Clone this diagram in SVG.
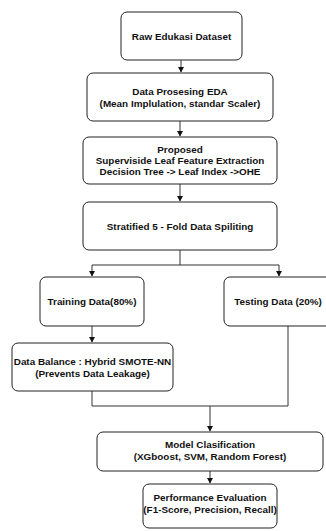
<svg xmlns="http://www.w3.org/2000/svg" width="326" height="531" viewBox="0 0 326 531">
<style>
.box{fill:#ffffff;stroke:#222222;stroke-width:1}
.t{font-family:"Liberation Sans",Arial,sans-serif;font-weight:bold;font-size:9.9px;fill:#111111;text-anchor:middle}
.c{fill:none;stroke:#333333;stroke-width:1}
</style>
<defs>
<marker id="ah" markerWidth="6" markerHeight="6" refX="5" refY="3" orient="auto" markerUnits="userSpaceOnUse">
<path d="M0,0 L5.5,3 L0,6 Z" fill="#111111"/>
</marker>
</defs>
<rect width="326" height="531" fill="#ffffff"/>
<g id="connectors">
<path class="c" d="M181,60 V72" marker-end="url(#ah)"/>
<path class="c" d="M180,121 V136" marker-end="url(#ah)"/>
<path class="c" d="M180,184 V201" marker-end="url(#ah)"/>
<path class="c" d="M180,250 V265 M92,265 H279"/>
<path class="c" d="M92,265 V276" marker-end="url(#ah)"/>
<path class="c" d="M279,265 V276" marker-end="url(#ah)"/>
<path class="c" d="M92,326 V342" marker-end="url(#ah)"/>
<path class="c" d="M92,391 V406 H288 V326"/>
<path class="c" d="M210,406 V431" marker-end="url(#ah)"/>
<path class="c" d="M210,471 V483" marker-end="url(#ah)"/>
</g>
<g id="raw">
<rect class="box" x="121" y="12" width="121" height="48" rx="6"/>
<text class="t" x="181.5" y="39.5">Raw Edukasi Dataset</text>
</g>
<g id="eda">
<rect class="box" x="87" y="73" width="186" height="48" rx="6"/>
<text class="t" x="180" y="95">Data Prosesing EDA</text>
<text class="t" x="180" y="106.5">(Mean Implulation, standar Scaler)</text>
</g>
<g id="proposed">
<rect class="box" x="83" y="137" width="194" height="47" rx="6"/>
<text class="t" x="180" y="152.5">Proposed</text>
<text class="t" x="180" y="163.5">Superviside Leaf Feature Extraction</text>
<text class="t" x="180" y="174.5">Decision Tree -&gt; Leaf Index -&gt;OHE</text>
</g>
<g id="split">
<rect class="box" x="83" y="202" width="194" height="48" rx="6"/>
<text class="t" x="180" y="229.5">Stratified 5 - Fold Data Spiliting</text>
</g>
<g id="training">
<rect class="box" x="40" y="277" width="104" height="49" rx="6"/>
<text class="t" x="92" y="305">Training Data(80%)</text>
</g>
<g id="testing">
<rect class="box" x="224" y="277" width="110" height="49" rx="6"/>
<text class="t" x="278" y="305">Testing Data (20%)</text>
</g>
<g id="balance">
<rect class="box" x="12" y="343" width="161" height="48" rx="6"/>
<text class="t" x="92.5" y="365">Data Balance : Hybrid SMOTE-NN</text>
<text class="t" x="92.5" y="376.5">(Prevents Data Leakage)</text>
</g>
<g id="model">
<rect class="box" x="97" y="432" width="226" height="39" rx="6"/>
<text class="t" x="210" y="447.5">Model Clasification</text>
<text class="t" x="210" y="459.5">(XGboost, SVM, Random Forest)</text>
</g>
<g id="performance">
<rect class="box" x="143" y="484" width="134" height="44" rx="6"/>
<text class="t" x="210" y="500.5">Performance Evaluation</text>
<text class="t" x="210" y="512.5">(F1-Score, Precision, Recall)</text>
</g>
</svg>
